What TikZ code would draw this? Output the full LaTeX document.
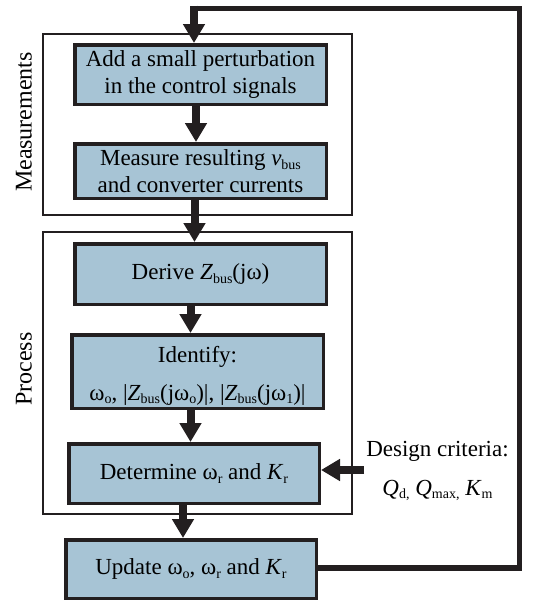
\documentclass[tikz,border=0pt]{standalone}
\usepackage{fontspec}
\setmainfont{Liberation Serif}
\usetikzlibrary{arrows.meta}
\definecolor{boxfill}{RGB}{167,196,213}
\definecolor{ink}{RGB}{35,31,32}
\newcommand\sbs[1]{\raisebox{-0.35ex}{\fontsize{14}{14}\selectfont #1}}
\begin{document}
\begin{tikzpicture}[x=1pt,y=-1pt,
  stepbox/.style={draw=ink, fill=boxfill, line width=3.5pt, align=center, inner sep=0pt, font=\fontsize{23}{27}\selectfont},
  group/.style={draw=ink, line width=2.2pt},
  bigarrow/.style={color=ink, line width=8pt, -{Triangle[width=21pt,length=19pt]}},
  fb/.style={draw=ink, line width=5.8pt, line join=miter},
  sidelabel/.style={rotate=90, inner sep=0pt, font=\fontsize{24}{28}\selectfont},
]
\useasboundingbox (0,0) rectangle (542,606);
% groups
\node[group, minimum width=308.8pt, minimum height=180.8pt] (meas) at (197.5,124.5) {};
\node[group, minimum width=308.8pt, minimum height=281.8pt] (proc) at (197.5,373) {};
% boxes
\node[stepbox, minimum width=251.5pt, minimum height=59.5pt] (b1) at (200.5,74.5) {Add a small perturbation\\in the control signals};
\node[stepbox, minimum width=251.5pt, minimum height=54.5pt] (b2) at (200.5,171) {Measure resulting \textit{v}\sbs{bus}\\and converter currents};
\node[stepbox, minimum width=251.5pt, minimum height=60.5pt] (b3) at (200.5,274) {Derive \textit{Z}\sbs{bus}(jω)};
\node[stepbox, minimum width=251.5pt, minimum height=73.5pt,
  label={[align=center, inner sep=0pt, yshift=-4pt, font=\fontsize{23}{27}\selectfont]center:{Identify:\\[11pt]ω\sbs{o}, |\textit{Z}\sbs{bus}(jω\sbs{o})|, |\textit{Z}\sbs{bus}(jω\sbs{1})|}}] (b4) at (197.5,371.5) {};
\node[stepbox, minimum width=250.5pt, minimum height=59.5pt] (b5) at (194,473.5) {Determine ω\sbs{r} and \textit{K}\sbs{r}};
\node[stepbox, minimum width=250.5pt, minimum height=58.5pt] (b6) at (191,569) {Update ω\sbs{o}, ω\sbs{r} and \textit{K}\sbs{r}};
% labels
\node[sidelabel] (lm) at (24,122) {Measurements};
\node[sidelabel] (lp) at (24,369) {Process};
\node[align=center, inner sep=0pt, font=\fontsize{23}{27}\selectfont] (crit) at (437.5,471) {Design criteria:\\[12pt]\textit{Q}\sbs{d,} \textit{Q}\sbs{max,} \textit{K}\sbs{m}};
% arrows
\draw[bigarrow] ([xshift=-4.5pt]b1.south) -- ([xshift=-4.5pt]b2.north);
\draw[bigarrow] ([xshift=-6pt]b2.south) -- ([xshift=-6pt]b3.north);
\draw[bigarrow] ([xshift=-10pt]b3.south) -- ([xshift=-10pt]b3.south |- b4.north);
\draw[bigarrow] ([xshift=-7pt]b4.south) -- ([xshift=-7pt]b4.south |- b5.north);
\draw[bigarrow] ([xshift=-11pt]b5.south) -- ([xshift=-11pt]b5.south |- b6.north);
\draw[bigarrow] ([xshift=-2pt,yshift=1pt]crit.west) -- ([yshift=3.5pt]b5.east);
% feedback
\coordinate (fbr) at (519.5,8.5);
\coordinate (fbl) at (194,8.5);
\draw[fb] ([yshift=1pt]b6.east) -| (fbr) -- (fbl);
\draw[bigarrow] ([yshift=2.9pt]fbl) -- (fbl |- b1.north);
\end{tikzpicture}
\end{document}
